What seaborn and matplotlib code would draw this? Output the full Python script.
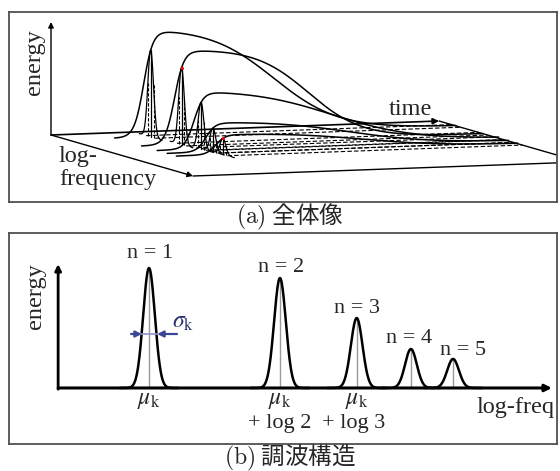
import numpy as np
import pandas as pd
import matplotlib
matplotlib.use('Agg')
import matplotlib.pyplot as plt
import seaborn as sns

# (b) harmonic structure: Gaussian peaks at mu_k + log n
harm_n = [1, 2, 3, 4, 5]
harm_offset = [0.0, 0.693, 1.099, 1.386, 1.609]
harm_height = [1.0, 0.917, 0.583, 0.325, 0.242]
sigma_k = 0.031
n_text = ['n = 1', 'n = 2', 'n = 3', 'n = 4', 'n = 5']
n_text_x = [0.005, 0.698, 1.100, 1.376, 1.661]
n_text_y = [1.083, 0.967, 0.625, 0.375, 0.275]
mu_sub = ['', '+ log 2', '+ log 3']
mu_sub_x = [0.0, 0.693, 1.085]

# (a) overview: harmonic envelopes over time / log-frequency
env_freq = [0.12, 0.31, 0.42, 0.49, 0.555]
env_amp = [0.92, 0.82, 0.49, 0.25, 0.17]
env_attack = [0.195, 0.205, 0.215, 0.22, 0.222]
env_release = [0.53, 0.55, 0.57, 0.59, 0.60]
env_release_w = [0.085, 0.07, 0.11, 0.11, 0.11]
red_tips = [1, 4]

# projection of (time, log-freq, energy) onto panel (a)
T_VEC = (388.0, 14.0)
F_VEC = (142.0, -41.0)
E_LEN = 113.0
ATT_W = 0.012
SIG_F = 0.02

SERIF = ['Liberation Serif', 'DejaVu Serif']
CJK = ['Noto Sans CJK JP', 'DejaVu Sans']


def proj(t, f, e=0.0):
    t = np.asarray(t, float)
    f = np.asarray(f, float)
    e = np.asarray(e, float)
    return T_VEC[0] * t + F_VEC[0] * f, T_VEC[1] * t + F_VEC[1] * f + E_LEN * e


def env_shape(i, t):
    att = 1.0 / (1.0 + np.exp(-(t - env_attack[i]) / ATT_W))
    rel = 1.0 / (1.0 + np.exp((t - env_release[i]) / env_release_w[i]))
    return att * rel


def envelope(i, t):
    grid = np.linspace(0, 1, 600)
    return env_amp[i] * env_shape(i, t) / env_shape(i, grid).max()


def arrow(ax, p0, p1, lw=1.0, color='black', ms=9):
    ax.annotate('', xy=p1, xytext=p0,
                arrowprops=dict(arrowstyle='-|>', lw=lw, color=color,
                                mutation_scale=ms, shrinkA=0, shrinkB=0))


sns.set_style('white')
plt.rcParams['font.family'] = SERIF
plt.rcParams['mathtext.fontset'] = 'stix'

fig = plt.figure(figsize=(5.6, 4.71), dpi=100)
ax_a = fig.add_axes([9 / 560, 1 - 202 / 471, 548 / 560, 190 / 471])
ax_b = fig.add_axes([9 / 560, 1 - 444 / 471, 548 / 560, 211 / 471])
for ax in (ax_a, ax_b):
    ax.set_xticks([])
    ax.set_yticks([])
    for s in ax.spines.values():
        s.set_visible(True)
        s.set_color('#505050')
        s.set_linewidth(1.3)

# ---------- panel (a)
ax = ax_a
ax.set_xlim(-42, 506)
ax.set_ylim(-67, 123)

# floor and axes
bx, by = proj([0, 1, 1.2], [1, 1, 1])
ax.plot(bx, by, color='black', lw=1.0)
rx, ry = proj([1, 1], [0, 1.3])
ax.plot(rx, ry, color='black', lw=1.0)
arrow(ax, proj(0, 0), proj(0, 1), lw=1.0, ms=8)
arrow(ax, proj(0, 0), proj(1, 0), lw=1.2, ms=9)
arrow(ax, proj(0, 0), proj(0, 0, 1.0), lw=1.0, ms=8)

rows = []
t_grid = np.linspace(0.12, 1.0, 500)
for i in range(len(env_freq)):
    f = env_freq[i]
    x, y = proj(t_grid, f, envelope(i, t_grid))
    rows.append(pd.DataFrame({'x': x, 'y': y, 'h': i}))
env_df = pd.concat(rows)
sns.lineplot(data=env_df, x='x', y='y', units='h', estimator=None, sort=False,
             color='black', lw=1.1, ax=ax)

for i in range(len(env_freq)):
    f = env_freq[i]
    tc = env_attack[i] + 0.018
    ec = float(envelope(i, tc))
    z = np.linspace(-4, 4, 120)
    gx, gy = proj(tc, f + z * SIG_F, ec * np.exp(-0.5 * z ** 2))
    ax.plot(gx, gy, color='black', lw=0.9)
    cx, cy = proj([tc, tc], [f, f], [0, ec])
    ax.plot(cx, cy, color='black', lw=0.9)
    for zz in (-1.0, 1.0):
        vx, vy = proj([tc, tc], [f + zz * SIG_F] * 2, [0, ec * np.exp(-0.5 * zz ** 2)])
        ax.plot(vx, vy, color='black', lw=0.8, ls=(0, (3, 1.5)))
        dx, dy = proj([tc, 1.0], [f + 1.6 * zz * SIG_F] * 2)
        ax.plot(dx, dy, color='black', lw=0.8, ls=(0, (4, 2)))
    if i in red_tips:
        px, py = proj(tc, f, ec)
        ax.plot([px], [py], 'o', color='red', ms=2.2, mew=0)

ax.text(-16, 73, 'energy', rotation=90, ha='center', va='center', fontsize=17.5)
ax.text(338, 20, 'time', ha='left', va='baseline', fontsize=17.5)
ax.text(8, -27, 'log-', ha='left', va='baseline', fontsize=17.5)
ax.text(8, -50, 'frequency', ha='left', va='baseline', fontsize=17.5)

# ---------- panel (b)
ax = ax_b
ax.set_xlim(-0.741, 2.159)
ax.set_ylim(-0.467, 1.292)

rows = []
for n, off, h in zip(harm_n, harm_offset, harm_height):
    xs = off + np.linspace(-5, 5, 200) * sigma_k
    rows.append(pd.DataFrame({'x': xs, 'energy': h * np.exp(-0.5 * ((xs - off) / sigma_k) ** 2), 'n': n}))
peaks = pd.concat(rows)

for off, h in zip(harm_offset, harm_height):
    ax.plot([off, off], [0, h], color='#9a9a9a', lw=1.0, zorder=1)
sns.lineplot(data=peaks, x='x', y='energy', units='n', estimator=None, sort=False,
             color='black', lw=1.8, ax=ax, zorder=3)

arrow(ax, (-0.481, 0), (2.132, 0), lw=2.2, ms=10)
arrow(ax, (-0.481, -0.01), (-0.481, 1.033), lw=2.0, ms=9)

# sigma_k marker
blue = '#3b4597'
ax.plot([-0.04, 0.045], [0.45, 0.45], color='#8d93c8', lw=1.2, zorder=4)
arrow(ax, (-0.095, 0.45), (-0.038, 0.45), lw=1.6, color=blue, ms=9)
arrow(ax, (0.148, 0.45), (0.043, 0.45), lw=1.6, color=blue, ms=9)
ax.text(0.122, 0.50, r'$\sigma_\mathrm{k}$', color='#2a2f70', fontsize=17, ha='left', va='baseline')

for t, tx, ty in zip(n_text, n_text_x, n_text_y):
    ax.text(tx, ty, t, ha='center', va='baseline', fontsize=16)
for k in range(3):
    ax.text(harm_offset[k], -0.133, r'$\mu_\mathrm{k}$', ha='center', va='baseline', fontsize=17)
    if mu_sub[k]:
        ax.text(mu_sub_x[k], -0.333, mu_sub[k], ha='center', va='baseline', fontsize=16)
ax.text(-0.603, 0.767, 'energy', rotation=90, ha='center', va='center', fontsize=17.5)
ax.text(1.735, -0.208, 'log-freq', ha='left', va='baseline', fontsize=17.5)

# captions
fig.text(290 / 560, 1 - 217 / 471, r'$\mathrm{(a)}$ 全体像', family=CJK, math_fontfamily='cm',
         ha='center', va='center', fontsize=17)
fig.text(290 / 560, 1 - 457 / 471, r'$\mathrm{(b)}$ 調波構造', family=CJK, math_fontfamily='cm',
         ha='center', va='center', fontsize=17)

fig.savefig('out.png', dpi=100)
